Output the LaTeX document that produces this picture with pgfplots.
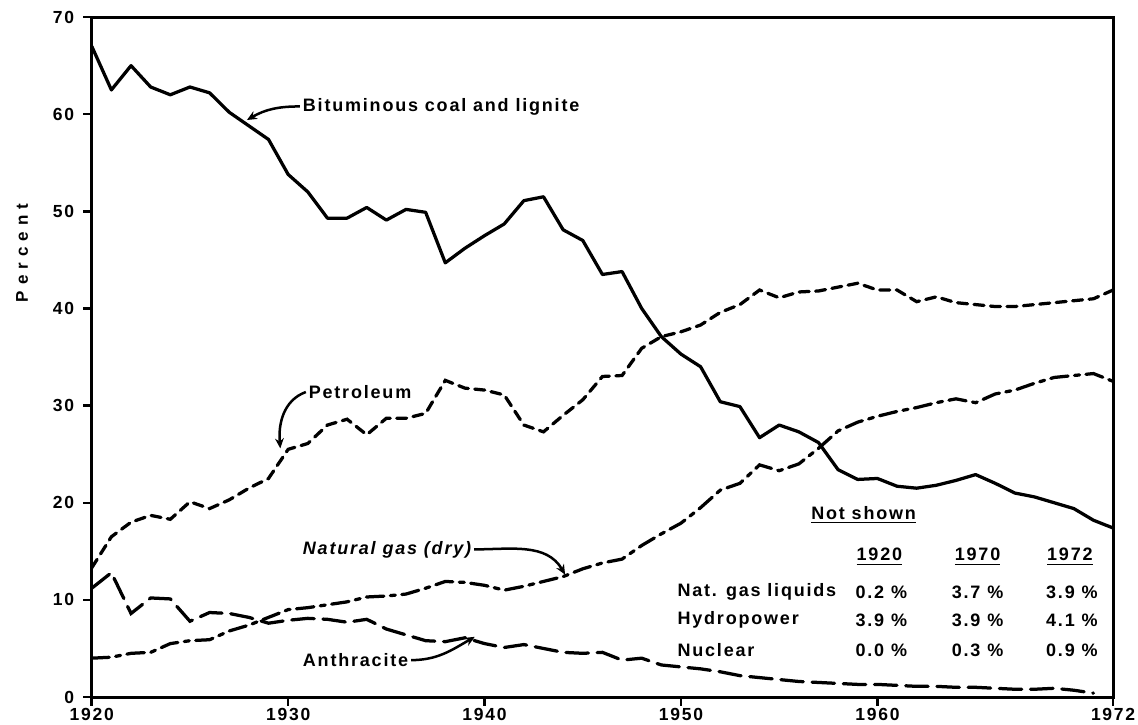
\documentclass[border=0pt]{standalone}
\usepackage{pgfplots}
\pgfplotsset{compat=1.18}
\usepackage{pgfplotstable}
\usepackage{fontspec}
\setmainfont{Liberation Sans}
\newfontfamily\lett[LetterSpace=10]{Liberation Sans}
\newfontfamily\wide[LetterSpace=35]{Liberation Sans}
\usetikzlibrary{arrows.meta}

% share of US energy consumption, percent
\pgfplotstableread{
year bit pet gas anth
1920 67.0 13.3 4.0 11.2
1921 62.5 16.5 4.1 12.8
1922 65.0 18.0 4.5 8.6
1923 62.8 18.7 4.6 10.2
1924 62.0 18.3 5.5 10.1
1925 62.8 20.1 5.8 7.8
1926 62.2 19.4 5.9 8.7
1927 60.2 20.3 6.8 8.6
1928 58.8 21.5 7.4 8.2
1929 57.4 22.5 8.2 7.6
1930 53.8 25.5 9.0 7.9
1931 52.0 26.1 9.2 8.1
1932 49.3 28.0 9.5 8.0
1933 49.3 28.6 9.8 7.7
1934 50.4 27.0 10.3 8.0
1935 49.1 28.7 10.4 7.0
1936 50.2 28.7 10.6 6.4
1937 49.9 29.2 11.2 5.8
1938 44.7 32.6 11.9 5.7
1939 46.2 31.8 11.8 6.1
1940 47.5 31.6 11.5 5.5
1941 48.7 31.1 11.0 5.1
1942 51.1 28.0 11.4 5.4
1943 51.5 27.3 11.9 5.0
1944 48.1 29.0 12.4 4.6
1945 47.0 30.6 13.2 4.5
1946 43.5 33.0 13.8 4.6
1947 43.8 33.1 14.2 3.8
1948 40.0 35.9 15.6 4.0
1949 37.1 37.1 16.8 3.3
1950 35.3 37.6 17.9 3.1
1951 34.0 38.3 19.5 2.9
1952 30.4 39.6 21.3 2.6
1953 29.9 40.4 22.0 2.2
1954 26.7 41.9 23.9 2.0
1955 28.0 41.1 23.3 1.8
1956 27.3 41.7 24.0 1.6
1957 26.2 41.8 25.6 1.5
1958 23.4 42.2 27.4 1.4
1959 22.4 42.6 28.3 1.3
1960 22.5 41.9 28.9 1.3
1961 21.7 41.9 29.4 1.2
1962 21.5 40.7 29.8 1.1
1963 21.8 41.2 30.3 1.1
1964 22.3 40.6 30.7 1.0
1965 22.9 40.4 30.3 1.0
1966 22.0 40.2 31.2 0.9
1967 21.0 40.2 31.6 0.8
1968 20.6 40.4 32.3 0.8
1969 20.0 40.6 32.9 0.9
1970 19.4 40.8 33.1 0.7
1971 18.2 41.0 33.3 0.4
1972 17.4 41.9 32.5 nan
}\shares

\begin{document}
\begin{tikzpicture}[font=\lett\bfseries\fontsize{7.2}{8}\selectfont]
\begin{axis}[name=ax,scale only axis,width=14.36cm,height=9.56cm,
  xmin=1920,xmax=1972,ymin=0,ymax=70,
  axis line style={line width=1.2pt},
  xtick={1920,1930,1940,1950,1960,1972},
  xticklabels={1920,1930,1940,1950,1960,1972},
  ytick={0,10,...,70},
  tick align=outside,xtick pos=bottom,ytick pos=left,
  major tick length=3.5pt,tick style={line width=1pt,black},
  tick label style={font=\lett\bfseries\fontsize{7}{8}\selectfont},
  xticklabel style={yshift=2.5pt},
  /pgf/number format/assume math mode=true,
  clip=false]
\addplot[black,line width=1.3pt,line join=round] table[x=year,y=bit] {\shares};
\addplot[black,line width=1.3pt,line cap=round,dash pattern=on 4pt off 2.6pt] table[x=year,y=pet] {\shares};
\addplot[black,line width=1.3pt,line cap=round,dash pattern=on 7pt off 2.6pt on 2pt off 2.6pt] table[x=year,y=gas] {\shares};
\addplot[black,line width=1.3pt,line cap=round,dash pattern=on 9pt off 3.5pt] table[x=year,y=anth] {\shares};

% labels and arrows
\node[anchor=west,inner sep=1pt] at (axis cs:1930.6,60.8) {Bituminous coal and lignite};
\draw[line width=1pt,-{Stealth[length=4pt,width=3.5pt]}] (axis cs:1930.6,60.8) to[out=180,in=30] (axis cs:1927.9,59.4);
\node[anchor=west,inner sep=1pt] at (axis cs:1930.9,31.4) {Petroleum};
\draw[line width=1pt,-{Stealth[length=4pt,width=3.5pt]}] (axis cs:1930.9,31.4) to[out=200,in=95] (axis cs:1929.6,25.6);
\node[anchor=west,inner sep=1pt] (ng) at (axis cs:1930.6,15.2) {\itshape Natural gas (dry)};
\draw[line width=1pt,-{Stealth[length=4pt,width=3.5pt]}] (ng.east) to[out=0,in=120] (axis cs:1944.1,12.6);
\node[anchor=west,inner sep=1pt] (an) at (axis cs:1930.6,3.8) {Anthracite};
\draw[line width=1pt,-{Stealth[length=4pt,width=3.5pt]}] (an.east) to[out=0,in=210] (axis cs:1939.5,6.2);

% not shown table
\node at (axis cs:1959.3,18.7) {\underline{Not shown}};
\node at (axis cs:1960.1,14.4) {\underline{1920}};
\node at (axis cs:1965.1,14.4) {\underline{1970}};
\node at (axis cs:1969.8,14.4) {\underline{1972}};
\node[anchor=west,inner sep=0pt] at (axis cs:1949.8,10.8) {Nat. gas liquids};
\node[anchor=west,inner sep=0pt] at (axis cs:1949.8,7.9) {Hydropower};
\node[anchor=west,inner sep=0pt] at (axis cs:1949.8,4.8) {Nuclear};
\node at (axis cs:1960.2,10.8) {0.2 \%};
\node at (axis cs:1960.2,7.9) {3.9 \%};
\node at (axis cs:1960.2,4.8) {0.0 \%};
\node at (axis cs:1965.1,10.8) {3.7 \%};
\node at (axis cs:1965.1,7.9) {3.9 \%};
\node at (axis cs:1965.1,4.8) {0.3 \%};
\node at (axis cs:1969.9,10.8) {3.9 \%};
\node at (axis cs:1969.9,7.9) {4.1 \%};
\node at (axis cs:1969.9,4.8) {0.9 \%};

\node[xshift=-0.98cm,rotate=90,font=\wide\bfseries\fontsize{6.8}{7}\selectfont] at (rel axis cs:0,0.653) {Percent};
\end{axis}
\pgfresetboundingbox
\path ([shift={(-1.29cm,-0.39cm)}]ax.south west) rectangle ([shift={(0.35cm,0.24cm)}]ax.north east);
\end{tikzpicture}
\end{document}
